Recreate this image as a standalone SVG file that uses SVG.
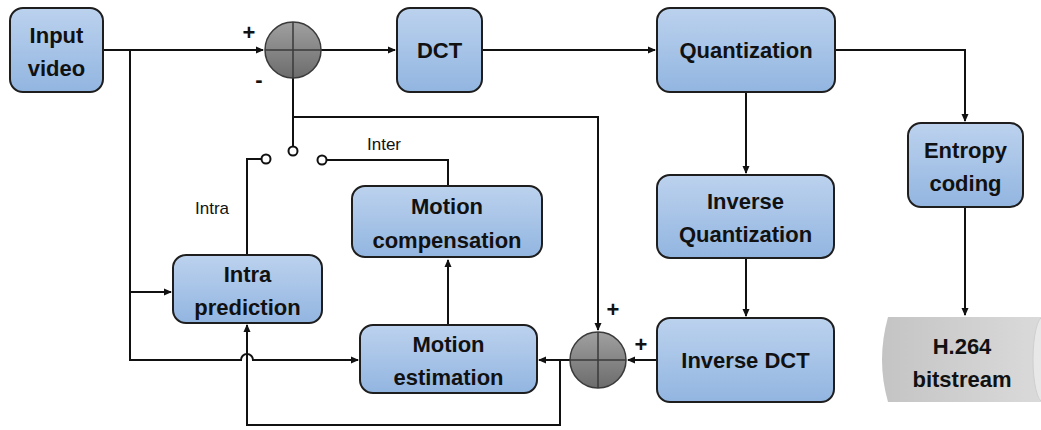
<svg xmlns="http://www.w3.org/2000/svg" width="1041" height="430" viewBox="0 0 1041 430">
<defs>
<linearGradient id="gb" x1="0" y1="0" x2="0" y2="1"><stop offset="0" stop-color="#bcd2ee"/><stop offset="1" stop-color="#92b5e0"/></linearGradient>
<linearGradient id="gg" x1="0" y1="0" x2="0" y2="1"><stop offset="0" stop-color="#a0a0a0"/><stop offset="1" stop-color="#6c6c6c"/></linearGradient>
<linearGradient id="gc" x1="0" y1="0" x2="1" y2="0"><stop offset="0" stop-color="#c4c4c4"/><stop offset="1" stop-color="#dadada"/></linearGradient>
<marker id="ar" markerWidth="8" markerHeight="8" refX="7" refY="4" orient="auto" markerUnits="userSpaceOnUse"><path d="M0,0.5 L8,4 L0,7.5 Z" fill="#111"/></marker>
<style>
.box{fill:url(#gb);stroke:#1e1e1e;stroke-width:2}
.t{font-family:"Liberation Sans",Arial,sans-serif;font-weight:bold;font-size:22px;fill:#111;text-anchor:middle}
.s{font-family:"Liberation Sans",Arial,sans-serif;font-size:17px;fill:#111;text-anchor:middle}
.w{fill:none;stroke:#111;stroke-width:2}
.sum{fill:url(#gg);stroke:#3a3a3a;stroke-width:1.5}
.sw{fill:#fff;stroke:#111;stroke-width:2}
</style>
</defs>
<g id="connectors">
<path class="w" d="M103,50 H263" marker-end="url(#ar)"/>
<path class="w" d="M321,50 H395" marker-end="url(#ar)"/>
<path class="w" d="M482,50 H655" marker-end="url(#ar)"/>
<path class="w" d="M835,50 H965 V121" marker-end="url(#ar)"/>
<path class="w" d="M965,207 V315" marker-end="url(#ar)"/>
<path class="w" d="M746,92 V173" marker-end="url(#ar)"/>
<path class="w" d="M746,258 V316" marker-end="url(#ar)"/>
<path class="w" d="M657,360 H628" marker-end="url(#ar)"/>
<path class="w" d="M570,360 H539" marker-end="url(#ar)"/>
<path class="w" d="M560,360 V425 H247 V325" marker-end="url(#ar)"/>
<path class="w" d="M293,78 V147"/>
<path class="w" d="M293,117 H598 V330" marker-end="url(#ar)"/>
<path class="w" d="M130,50 V360 H241 A6,6 0 0 1 253,360 H358" marker-end="url(#ar)"/>
<path class="w" d="M130,292 H171" marker-end="url(#ar)"/>
<path class="w" d="M448,325 V260" marker-end="url(#ar)"/>
<path class="w" d="M448,186 V160 H327"/>
<path class="w" d="M247,255 V159 H261"/>
<circle class="sw" cx="293" cy="151" r="4.5"/>
<circle class="sw" cx="266" cy="159" r="4.5"/>
<circle class="sw" cx="322" cy="160" r="4.5"/>
</g>
<g id="input"><rect class="box" x="10" y="8" width="93" height="84" rx="13"/><text class="t" x="56.5" y="43">Input</text><text class="t" x="56.5" y="76">video</text></g>
<g id="sum1"><circle class="sum" cx="293" cy="50" r="28"/><path d="M293,22 V78 M265,50 H321" stroke="#3a3a3a" stroke-width="1.5"/></g>
<text class="t" x="249" y="40">+</text>
<text class="t" x="259" y="87">-</text>
<g id="dct"><rect class="box" x="397" y="8" width="85" height="84" rx="13"/><text class="t" x="439.5" y="58">DCT</text></g>
<g id="quant"><rect class="box" x="657" y="8" width="178" height="84" rx="13"/><text class="t" x="746" y="58">Quantization</text></g>
<g id="entropy"><rect class="box" x="908" y="123" width="115" height="84" rx="13"/><text class="t" x="965.5" y="158">Entropy</text><text class="t" x="965.5" y="191">coding</text></g>
<g id="bitstream"><path d="M888,317 H1041 V402 H888 Q876,360 888,317 Z" fill="url(#gc)"/><ellipse cx="1043" cy="359.5" rx="10" ry="42.5" fill="#e8e8e8" stroke="#cfcfcf"/><text class="t" x="962" y="354">H.264</text><text class="t" x="962" y="387">bitstream</text></g>
<g id="invquant"><rect class="box" x="657" y="175" width="177" height="83" rx="13"/><text class="t" x="745.5" y="209">Inverse</text><text class="t" x="745.5" y="242">Quantization</text></g>
<g id="invdct"><rect class="box" x="657" y="318" width="177" height="84" rx="13"/><text class="t" x="745.5" y="368">Inverse DCT</text></g>
<g id="sum2"><circle class="sum" cx="598" cy="360" r="28"/><path d="M598,332 V388 M570,360 H626" stroke="#3a3a3a" stroke-width="1.5"/></g>
<text class="t" x="613" y="317">+</text>
<text class="t" x="641" y="352">+</text>
<g id="mest"><rect class="box" x="360" y="325" width="177" height="68" rx="13"/><text class="t" x="448.5" y="352">Motion</text><text class="t" x="448.5" y="385">estimation</text></g>
<g id="mcomp"><rect class="box" x="352" y="186" width="190" height="71" rx="13"/><text class="t" x="447" y="214">Motion</text><text class="t" x="447" y="248">compensation</text></g>
<g id="intra"><rect class="box" x="173" y="255" width="149" height="68" rx="13"/><text class="t" x="247.5" y="282">Intra</text><text class="t" x="247.5" y="315">prediction</text></g>
<text class="s" x="384" y="150">Inter</text>
<text class="s" x="212" y="214">Intra</text>
</svg>
